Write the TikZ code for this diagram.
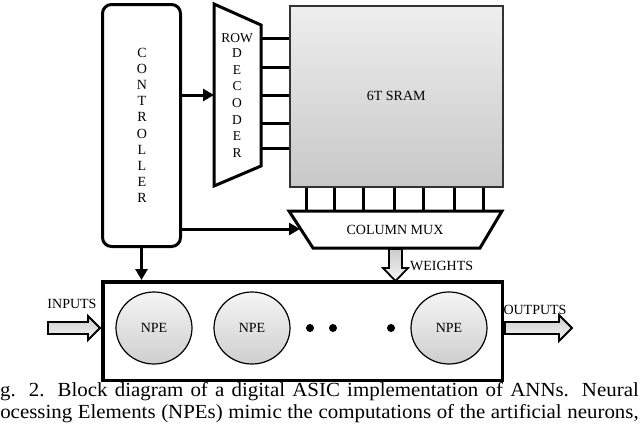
\documentclass[tikz,border=0pt]{standalone}
\usepackage{fontspec}
\setmainfont{Liberation Serif}
\newfontfamily\capfont{Liberation Serif}[FakeStretch=1.045]
\usetikzlibrary{arrows.meta,shapes.geometric,calc}
\definecolor{srtop}{RGB}{238,238,238}
\definecolor{srbot}{RGB}{200,200,200}
\begin{document}
\begin{tikzpicture}[x=1pt,y=-1pt,
  lbl/.style={font=\fontsize{14}{15}\selectfont, inner sep=0},
  declbl/.style={font=\fontsize{13.5}{14}\selectfont, inner sep=0},
  wire/.style={line width=3pt},
  arr/.style={line width=3pt,-{Triangle[length=11pt,width=12pt]}},
  blk/.style={line width=1.8pt, top color=gray!40, bottom color=gray!8},
  npe/.style={draw, ellipse, line width=1.2pt, minimum width=76pt, minimum height=72pt, inner sep=0,
    top color=gray!8, bottom color=gray!38, font=\fontsize{14}{15}\selectfont},
  captxt/.style={font=\capfont\fontsize{20}{22}\selectfont, inner sep=0, anchor=base west}
]
\useasboundingbox (0,0) rectangle (640,434);

% controller
\node[draw, line width=3pt, rounded corners=9pt, minimum width=78pt, minimum height=242pt, inner sep=0] (ctrl) at (141.5,125.5) {};
\foreach \l [count=\i] in {C,O,N,T,R,O,L,L,E,R}
  \node[lbl] (c\i) at (142,{53+16.1*(\i-1)}) {\l};

% row decoder
\draw[wire, fill=white] (214,4) -- (261,25) -- (261,166) -- (214,186) -- cycle;
\coordinate (decW) at (214,95);
\node[declbl] (row) at (237,38) {ROW};
\foreach \l [count=\i] in {D,E,C,O,D,E,R}
  \node[declbl] (d\i) at (237,{53+16.7*(\i-1)}) {\l};

% SRAM
\node[draw=black!80, line width=1.5pt, top color=srtop, bottom color=srbot,
  minimum width=213pt, minimum height=181pt, inner sep=0, anchor=north west] (sram) at (289,5) {};
\node[lbl] (sramlbl) at (sram.center) {6T SRAM};

\foreach \y in {38,67,95,123,148}
  \draw[wire] (261,\y) -- (sram.west |- 0,\y);

% column mux
\draw[wire, fill=white] (289,211) -- (502,211) -- (480,248) -- (313,248) -- cycle;
\node[lbl] (mux) at (395,230) {COLUMN MUX};
\coordinate (muxL) at (300,229);
\coordinate (muxB) at (395.5,249);
\foreach \x in {306,334,363,394,423,454,483}
  \draw[wire] (\x,0 |- sram.south) -- (\x,210);

% NPE block
\node[draw, line width=3.5pt, minimum width=399.5pt, minimum height=98.5pt, inner sep=0] (box) at (302.5,331) {};
\node[npe] (n1) at (154,328) {NPE};
\node[npe] (n2) at (252,328) {NPE};
\node[npe] (n3) at (449,328) {NPE};
\fill (310,328) circle (4);
\fill (333,328) circle (4);
\fill (391,328) circle (4);

% controller connectors
\draw[arr] (ctrl.east |- decW) -- (decW);
\draw[arr] (ctrl.east |- muxL) -- (muxL);
\draw[arr] (ctrl.south) -- (ctrl.south |- box.north);

% block arrows
\draw[blk] (389,249) -- (402,249) -- (402,268) -- (408,268) -- (395.5,281) -- (383,268) -- (389,268) -- cycle;
\node[lbl, anchor=west] (wt) at (410,266) {WEIGHTS};
\draw[blk] (48,322) -- (88,322) -- (88,316) -- (100,328) -- (88,340) -- (88,334) -- (48,334) -- cycle;
\node[lbl] (inp) at (72,304) {INPUTS};
\draw[blk] (505,322) -- (559,322) -- (559,315) -- (572,328) -- (559,341) -- (559,334) -- (505,334) -- cycle;
\node[lbl] (outp) at (535,310) {OUTPUTS};

% caption (cropped at the left edge, as in the reference)
\node[captxt] (cap1) at (-17.4,396) {\makebox[656pt][s]{Fig. 2. Block diagram of a digital ASIC implementation of ANNs. Neural}};
\node[captxt] (cap2) at (-18.5,418) {\makebox[657pt][s]{Processing Elements (NPEs) mimic the computations of the artificial neurons,}};
\end{tikzpicture}
\end{document}
